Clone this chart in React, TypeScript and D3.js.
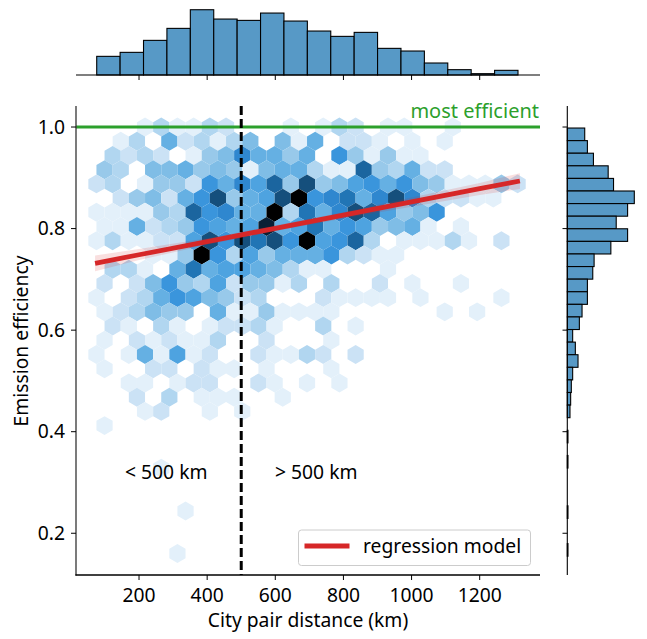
import React from 'react';
import * as d3 from 'd3';

// Hex counts per row, top row first. Column 0 of even rows sits half a cell left of odd rows.
const hexCounts: number[][] = [
  [0,0,0,1,3,1,1,3,2,0,0,0,1,0,1,3,2,0,1,1,0,0,1],
  [0,1,3,0,6,2,3,1,3,5,0,5,1,6,0,2,2,1,0,1,0,1],
  [0,3,2,3,2,0,1,4,5,9,6,6,4,6,0,8,4,1,4,1,1],
  [4,3,0,5,5,6,4,5,4,1,5,6,6,3,1,1,11,4,3,6,2,2],
  [2,3,0,1,4,4,2,8,6,9,7,11,4,12,4,5,7,8,6,8,5,4,1,1,1,4,2],
  [0,2,4,5,2,6,8,12,4,6,7,12,14,8,9,10,6,9,12,9,3,2,2,1,1],
  [1,1,1,1,4,3,11,8,9,6,6,14,3,10,6,9,12,11,7,4,5,8],
  [1,1,6,2,3,4,8,7,6,7,13,6,7,10,6,8,7,4,5,6,1,0,1],
  [1,3,1,1,2,2,7,12,8,12,10,12,8,14,7,8,11,3,0,1,1,1,3,1,0,2],
  [0,0,0,1,1,4,14,8,3,7,4,6,6,6,8,3,2,1,1],
  [0,3,3,1,0,6,10,6,7,7,6,5,3,1,1,0,0,0,1],
  [2,0,2,5,8,4,3,7,2,4,4,1,3,0,3,0,0,2,0,1,0,0,1],
  [1,0,2,3,6,8,7,5,4,2,3,0,0,0,2,1,1,1,1,0,1,0,0,0,0,1],
  [1,2,3,5,4,4,0,6,1,1,4,1,1,1,1,0,0,0,0,0,0,1,0,1],
  [0,2,1,0,3,1,0,1,2,2,3,1,0,0,3,0,1],
  [1,0,2,1,2,1,1,3,0,0,2,0,0,0,1],
  [1,0,1,6,1,7,1,2,0,0,2,1,1,3,2,0,2],
  [1,0,0,2,2,0,2,1,1,0,1,0,0,0,1],
  [0,0,1,1,0,1,2,2,0,0,2,1,0,1,0,1],
  [0,0,2,0,3,0,1,1,1,0,0,1],
  [0,0,0,1,2,0,0,1,0,1],
  [1],
  [],
  [],
  [0,0,0,0,1],
  [],
  [],
  [0,0,0,0,0,1],
  [],
  [],
  [0,0,0,0,0,1],
];
const hexOriginX = 75;
const hexStepX = 47.55;
const hexStepY = 0.028;

const colorLevels = [1, 2, 3, 4, 5, 6, 7, 8, 9, 10, 11, 12, 13, 14];
const colorStops = ['#e3f0fa', '#cbe2f5', '#b1d6f0', '#98c9ea', '#7fbde6', '#65b0e3', '#4ea3e0', '#3a95dc', '#2f87cf', '#2175b5', '#1b659f', '#154f7c', '#0a2035', '#000000'];

const topHistStart = 75.8;
const topHistStep = 68.7;
const topHistCounts = [28, 34, 52, 70, 98, 84, 82, 93, 81, 66, 58, 64, 40, 36, 18, 8, 2, 7];

const rightHistStart = 0.998;
const rightHistStep = 0.0248;
const rightHistCounts = [26, 30, 39, 61, 69, 100, 90, 73, 90, 65, 40, 38, 30, 30, 22, 18, 8, 12, 16, 8, 6, 5, 4, 0, 1, 0, 1, 0, 0, 0, 1, 0, 0, 1];

const regressionDistance = [71, 200, 400, 600, 800, 1000, 1200, 1318];
const regressionValue = [0.7316, 0.7485, 0.7745, 0.8005, 0.8265, 0.8525, 0.8785, 0.8937];
const regressionLow = [0.716, 0.738, 0.768, 0.795, 0.82, 0.843, 0.866, 0.878];
const regressionHigh = [0.747, 0.76, 0.781, 0.806, 0.832, 0.861, 0.89, 0.909];

const xTicks = [200, 400, 600, 800, 1000, 1200];
const yTicks = [0.2, 0.4, 0.6, 0.8, 1.0];

const FONT = '"Noto Sans", sans-serif';
const TEXT_SIZE = 19.3;
const HIST_FILL = '#5799c6';
const RED = '#d62728';

const x = d3.scaleLinear().domain([15, 1377]).range([76, 540]);
const y = d3.scaleLinear().domain([1.0414, 0.1178]).range([106, 575]);
const yTop = d3.scaleLinear().domain([0, 103]).range([75, 6.4]);
const xRight = d3.scaleLinear().domain([0, 100]).range([567.3, 634.3]);
const color = d3.scaleLinear<string>().domain(colorLevels).range(colorStops);

const hexCells = hexCounts.flatMap((row, r) =>
  row.map((count, k) => ({
    count,
    cx: x(hexOriginX + hexStepX * (k + (r % 2 ? 0.5 : 0))),
    cy: y(1 - hexStepY * r),
  })).filter(d => d.count > 0)
);

const halfW = (x(hexStepX) - x(0)) / 2;
const hexR = ((y(0) - y(hexStepY)) * 2) / 3;
const hexPath = d3.line()([
  [0, -hexR], [halfW, -hexR / 2], [halfW, hexR / 2], [0, hexR], [-halfW, hexR / 2], [-halfW, -hexR / 2],
]) + 'Z';

const regressionLine = d3.line<number>()
  .x(d => x(d))
  .y((_, i) => y(regressionValue[i]));
const regressionBand = d3.area<number>()
  .x(d => x(d))
  .y0((_, i) => y(regressionLow[i]))
  .y1((_, i) => y(regressionHigh[i]));

export default function App() {
  return (
    <svg width={647} height={639} style={{ position: 'absolute', left: 0, top: 0 }} fontFamily={FONT} fontSize={TEXT_SIZE}>
      {/* hexbin */}
      {hexCells.map((d, i) => (
        <path key={i} d={hexPath} transform={`translate(${d.cx},${d.cy})`} fill={color(d.count)} />
      ))}

      {/* reference lines */}
      <line x1={76} x2={540} y1={y(1)} y2={y(1)} stroke="#2ca02c" strokeWidth={3} />
      <line x1={x(500)} x2={x(500)} y1={106} y2={575} stroke="#000" strokeWidth={3} strokeDasharray="9,4" />

      {/* regression */}
      <path d={regressionBand(regressionDistance) ?? ''} fill={RED} fillOpacity={0.15} />
      <path d={regressionLine(regressionDistance) ?? ''} fill="none" stroke={RED} strokeWidth={4.8} />

      {/* main axes */}
      <line x1={76} x2={76} y1={106} y2={575.6} stroke="#333" strokeWidth={1.3} />
      <line x1={75.4} x2={540} y1={575} y2={575} stroke="#000" strokeWidth={1.3} />
      {xTicks.map(t => (
        <g key={t}>
          <line x1={x(t)} x2={x(t)} y1={575} y2={580} stroke="#000" strokeWidth={1} />
          <text x={x(t)} y={601.5} textAnchor="middle">{t}</text>
        </g>
      ))}
      {yTicks.map(t => (
        <g key={t}>
          <line x1={71} x2={76} y1={y(t)} y2={y(t)} stroke="#000" strokeWidth={1} />
          <text x={65} y={y(t) + 6.5} textAnchor="end">{t.toFixed(1)}</text>
        </g>
      ))}
      <text x={308} y={627} textAnchor="middle">City pair distance (km)</text>
      <text transform="translate(28,341) rotate(-90)" textAnchor="middle">Emission efficiency</text>

      {/* annotations */}
      <text x={539} y={118} textAnchor="end" fill="#2ca02c" fontSize={20}>most efficient</text>
      <text x={125} y={479}>{'< 500 km'}</text>
      <text x={275} y={479}>{'> 500 km'}</text>

      {/* legend */}
      <rect x={298.5} y={530} width={232} height={35.5} rx={3} fill="#fff" fillOpacity={0.8} stroke="#ccc" strokeWidth={1} />
      <line x1={304.5} x2={349.5} y1={546} y2={546} stroke={RED} strokeWidth={4.8} />
      <text x={363} y={553}>regression model</text>

      {/* top histogram */}
      {topHistCounts.map((c, i) => (
        <rect key={i} x={x(topHistStart + i * topHistStep)} y={yTop(c)}
          width={x(topHistStep) - x(0)} height={yTop(0) - yTop(c)}
          fill={HIST_FILL} stroke="#000" strokeWidth={1.1} />
      ))}
      <line x1={76} x2={540} y1={75} y2={75} stroke="#000" strokeWidth={1.1} />
      {xTicks.map(t => (
        <line key={t} x1={x(t)} x2={x(t)} y1={75} y2={80} stroke="#000" strokeWidth={1} />
      ))}

      {/* right histogram */}
      {rightHistCounts.map((c, i) => c > 0 && (
        <rect key={i} x={xRight(0)} y={y(rightHistStart - i * rightHistStep)}
          width={xRight(c) - xRight(0)} height={y(0) - y(rightHistStep)}
          fill={HIST_FILL} stroke="#000" strokeWidth={1.1} />
      ))}
      <line x1={xRight(0)} x2={xRight(0)} y1={106} y2={575} stroke="#000" strokeWidth={1.1} />
      {yTicks.map(t => (
        <line key={t} x1={562.5} x2={xRight(0)} y1={y(t)} y2={y(t)} stroke="#000" strokeWidth={1} />
      ))}
    </svg>
  );
}
